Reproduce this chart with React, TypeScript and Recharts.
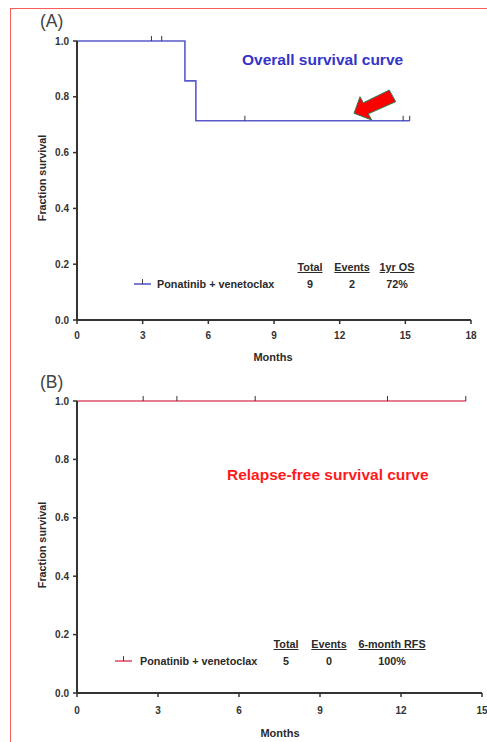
import React from 'react';
import { ComposedChart, Line, Scatter, XAxis, YAxis } from 'recharts';

// Panel A: overall survival (Kaplan-Meier steps)
const osCurve = [
  { month: 0, survival: 1.0 },
  { month: 4.93, survival: 0.857 },
  { month: 5.43, survival: 0.714 },
  { month: 15.2, survival: 0.714 },
];
const osCensored = [
  { month: 3.4, survival: 1.0 },
  { month: 3.87, survival: 1.0 },
  { month: 7.67, survival: 0.714 },
  { month: 14.9, survival: 0.714 },
  { month: 15.2, survival: 0.714 },
];
const osXTicks = [0, 3, 6, 9, 12, 15, 18];

// Panel B: relapse-free survival
const rfsCurve = [
  { month: 0, survival: 1.0 },
  { month: 14.4, survival: 1.0 },
];
const rfsCensored = [
  { month: 2.45, survival: 1.0 },
  { month: 3.7, survival: 1.0 },
  { month: 6.6, survival: 1.0 },
  { month: 11.5, survival: 1.0 },
  { month: 14.4, survival: 1.0 },
];
const rfsXTicks = [0, 3, 6, 9, 12, 15];

const yTicks = [0, 0.2, 0.4, 0.6, 0.8, 1.0];

const osLegend = { name: 'Ponatinib + venetoclax', headers: ['Total', 'Events', '1yr OS'], values: ['9', '2', '72%'] };
const rfsLegend = { name: 'Ponatinib + venetoclax', headers: ['Total', 'Events', '6-month RFS'], values: ['5', '0', '100%'] };

const FONT = '"Liberation Sans", Arial, sans-serif';
const AXIS = '#333';

const CensorTick = (props: any) => {
  const { cx, cy } = props;
  if (cx == null || cy == null) return null;
  return <line x1={cx} y1={cy - 5} x2={cx} y2={cy} stroke="#333" strokeWidth={1} />;
};

const tickStyle = { fill: '#333', fontSize: 10, fontWeight: 700, fontFamily: FONT };

function Panel(props: {
  top: number;
  height: number;
  margin: any;
  curve: any[];
  censored: any[];
  xMax: number;
  xTicks: number[];
  color: string;
  xTickMargin: number;
}) {
  const { top, height, margin, curve, censored, xMax, xTicks, color, xTickMargin } = props;
  return (
    <div style={{ position: 'absolute', left: 0, top, width: 487, height }}>
      <ComposedChart width={487} height={height} margin={margin}>
        <XAxis
          type="number"
          dataKey="month"
          domain={[0, xMax]}
          ticks={xTicks}
          allowDataOverflow
          axisLine={{ stroke: AXIS, strokeWidth: 2 }}
          tickLine={{ stroke: AXIS, strokeWidth: 1.5 }}
          tickSize={4}
          tickMargin={xTickMargin}
          height={30}
          tick={tickStyle}
        />
        <YAxis
          type="number"
          dataKey="survival"
          domain={[0, 1]}
          ticks={yTicks}
          tickFormatter={(v: number) => v.toFixed(1)}
          axisLine={{ stroke: AXIS, strokeWidth: 2 }}
          tickLine={{ stroke: AXIS, strokeWidth: 1.5 }}
          tickSize={4}
          tickMargin={4}
          width={30}
          tick={tickStyle}
        />
        <Line
          data={curve}
          dataKey="survival"
          type="stepAfter"
          stroke={color}
          strokeWidth={1.6}
          dot={false}
          activeDot={false}
          isAnimationActive={false}
          legendType="none"
        />
        <Scatter data={censored} dataKey="survival" shape={<CensorTick />} isAnimationActive={false} legendType="none" />
      </ComposedChart>
    </div>
  );
}

function LegendBlock(props: {
  legend: { name: string; headers: string[]; values: string[] };
  color: string;
  symX: number;
  textX: number;
  rowY: number;
  headerY: number;
  colCenters: number[];
}) {
  const { legend, color, symX, textX, rowY, headerY, colCenters } = props;
  const txt: React.CSSProperties = {
    position: 'absolute',
    fontFamily: FONT,
    fontSize: 10.8,
    fontWeight: 700,
    color: '#2a2a2a',
    whiteSpace: 'nowrap',
    lineHeight: '12px',
  };
  return (
    <>
      <svg style={{ position: 'absolute', left: symX, top: rowY - 6, overflow: 'visible' }} width={17} height={12}>
        <line x1={0} y1={6} x2={17} y2={6} stroke={color} strokeWidth={1.6} />
        <line x1={8.5} y1={1} x2={8.5} y2={6} stroke="#444" strokeWidth={1} />
      </svg>
      <div style={{ ...txt, left: textX, top: rowY - 6 }}>{legend.name}</div>
      {legend.headers.map((h, i) => (
        <div
          key={'h' + i}
          style={{ ...txt, left: colCenters[i] - 60, width: 120, textAlign: 'center', top: headerY - 6, textDecoration: 'underline' }}
        >
          {h}
        </div>
      ))}
      {legend.values.map((v, i) => (
        <div key={'v' + i} style={{ ...txt, left: colCenters[i] - 60, width: 120, textAlign: 'center', top: rowY - 6 }}>
          {v}
        </div>
      ))}
    </>
  );
}

export default function App() {
  const label: React.CSSProperties = {
    position: 'absolute',
    fontFamily: FONT,
    fontSize: 11,
    fontWeight: 700,
    color: '#2a2a2a',
    whiteSpace: 'nowrap',
    lineHeight: '12px',
  };
  return (
    <div style={{ position: 'absolute', left: 0, top: 0, width: 487, height: 742, background: '#fff', overflow: 'hidden' }}>
      <div
        style={{
          position: 'absolute',
          left: 10,
          top: 8,
          width: 480,
          height: 740,
          borderTop: '1.5px solid #ff5a5a',
          borderLeft: '1.5px solid #ff5a5a',
        }}
      />

      <Panel
        top={0}
        height={370}
        margin={{ top: 41, right: 16, left: 47, bottom: 20 }}
        curve={osCurve}
        censored={osCensored}
        xMax={18}
        xTicks={osXTicks}
        color="#5a5acb"
        xTickMargin={8}
      />
      <Panel
        top={370}
        height={372}
        margin={{ top: 31, right: 5, left: 47, bottom: 19 }}
        curve={rfsCurve}
        censored={rfsCensored}
        xMax={15}
        xTicks={rfsXTicks}
        color="#e0506a"
        xTickMargin={10}
      />

      {/* Panel labels */}
      <div style={{ position: 'absolute', left: 40, top: 11, fontFamily: FONT, fontSize: 17.5, color: '#444', lineHeight: '20px' }}>(A)</div>
      <div style={{ position: 'absolute', left: 40, top: 372, fontFamily: FONT, fontSize: 17.5, color: '#444', lineHeight: '20px' }}>(B)</div>

      {/* Titles */}
      <div style={{ position: 'absolute', left: 242, top: 51, fontFamily: FONT, fontSize: 15.5, fontWeight: 700, color: '#3434c8', whiteSpace: 'nowrap', lineHeight: '18px' }}>
        Overall survival curve
      </div>
      <div style={{ position: 'absolute', left: 227, top: 466, fontFamily: FONT, fontSize: 15.5, fontWeight: 700, color: '#ff1a1a', whiteSpace: 'nowrap', lineHeight: '18px' }}>
        Relapse-free survival curve
      </div>

      {/* Axis titles */}
      <div style={{ ...label, left: 273 - 40, width: 80, textAlign: 'center', top: 351 }}>Months</div>
      <div style={{ ...label, left: 280 - 40, width: 80, textAlign: 'center', top: 727 }}>Months</div>
      <div style={{ ...label, left: 42 - 60, width: 120, textAlign: 'center', top: 178 - 6, transform: 'rotate(-90deg)', fontSize: 10.8 }}>
        Fraction survival
      </div>
      <div style={{ ...label, left: 42 - 60, width: 120, textAlign: 'center', top: 545 - 6, transform: 'rotate(-90deg)', fontSize: 10.8 }}>
        Fraction survival
      </div>

      {/* Legends */}
      <LegendBlock legend={osLegend} color="#5a5acb" symX={134} textX={157} rowY={284} headerY={267} colCenters={[310, 352, 397]} />
      <LegendBlock legend={rfsLegend} color="#e0506a" symX={115} textX={140} rowY={661} headerY={644} colCenters={[286, 329, 392]} />

      {/* Red arrow annotation */}
      <svg style={{ position: 'absolute', left: 0, top: 0 }} width={487} height={742} pointerEvents="none">
        <polygon
          points="354,113.3 360,96.7 363.3,102.8 389.3,90 395.7,101.7 368.3,113.8 371.7,120"
          fill="#ff0000"
          stroke="#2d7d5d"
          strokeWidth={1}
          strokeLinejoin="round"
        />
      </svg>
    </div>
  );
}
